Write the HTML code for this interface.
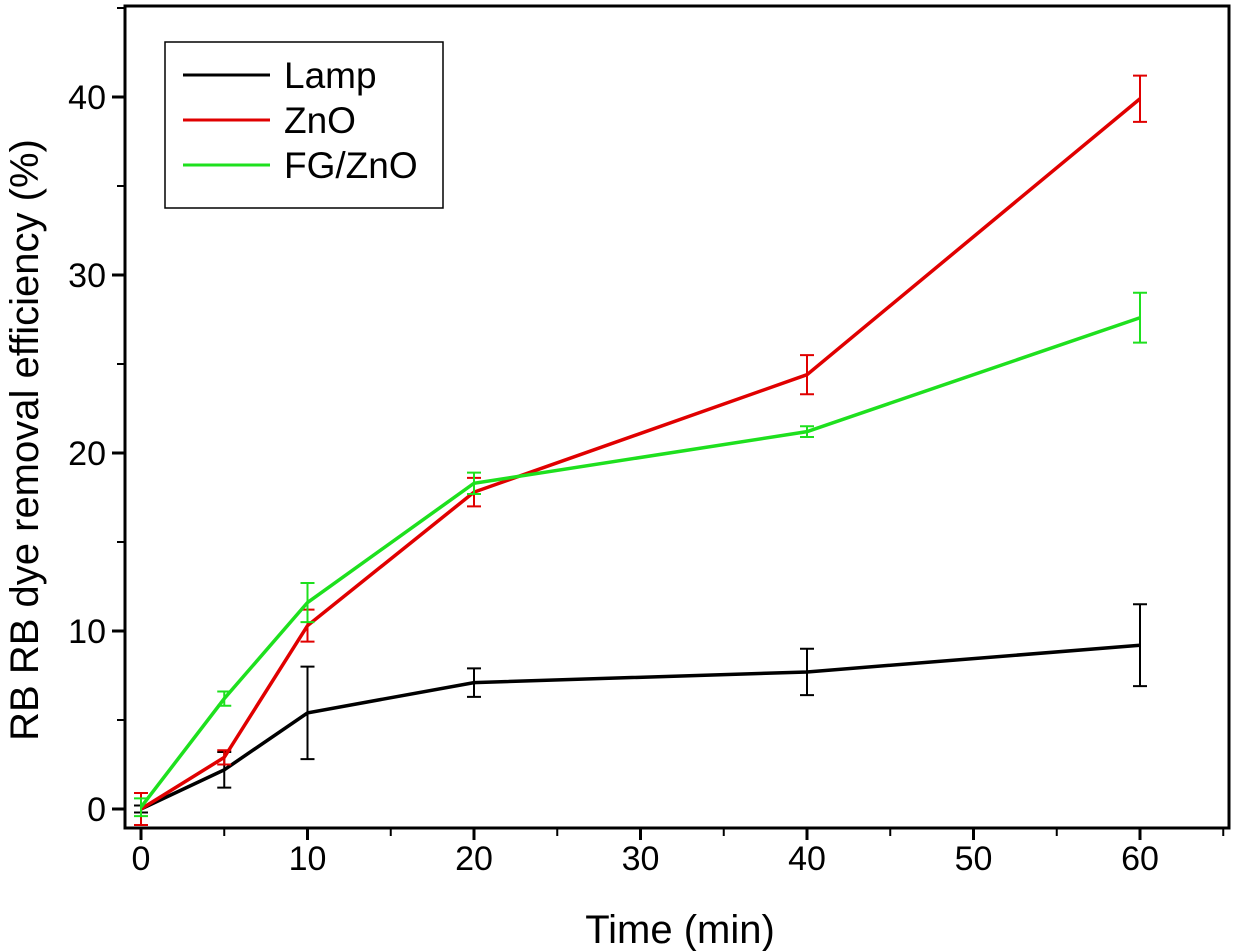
<!DOCTYPE html>
<html><head><meta charset="utf-8"><style>
body{margin:0;background:#fff;}
svg{display:block;font-family:"Liberation Sans",Arial,sans-serif;}
</style></head><body>
<svg id="chart" width="1234" height="951" viewBox="0 0 1234 951">
<rect x="125" y="6" width="1104" height="822" fill="none" stroke="#000" stroke-width="3"/>
<g id="axes"></g><g id="series"></g>
<text x="680" y="943" font-size="40" text-anchor="middle">Time (min)</text>
<text transform="translate(38,440) rotate(-90)" font-size="40" text-anchor="middle">RB RB dye removal efficiency (%)</text>
<g>
<rect x="165" y="42" width="278" height="166" fill="#fff" stroke="#000" stroke-width="1.5"/>
<g><line x1="183" y1="75" x2="270" y2="75" stroke="#000" stroke-width="3"/><text x="284" y="88" font-size="37">Lamp</text></g>
<g><line x1="183" y1="120" x2="270" y2="120" stroke="#e00000" stroke-width="3"/><text x="284" y="133" font-size="37">ZnO</text></g>
<g><line x1="183" y1="165" x2="270" y2="165" stroke="#1ee01e" stroke-width="3"/><text x="284" y="178" font-size="37">FG/ZnO</text></g>
</g>
</svg>
<script>
const times=[0,5,10,20,40,60];
const lampVals=[0,2.2,5.4,7.1,7.7,9.2];
const lampErr=[0.2,1.0,2.6,0.8,1.3,2.3];
const znoVals=[0,2.9,10.3,17.8,24.4,39.9];
const znoErr=[0.9,0.4,0.9,0.8,1.1,1.3];
const fgVals=[0.1,6.2,11.6,18.3,21.2,27.6];
const fgErr=[0.5,0.4,1.1,0.6,0.3,1.4];
const xTicks=[0,10,20,30,40,50,60];
const yTicks=[0,10,20,30,40];
const NS='http://www.w3.org/2000/svg';
const X=v=>141+v*16.65;
const Y=v=>809-v*17.8;
function mk(tag,attrs,parent){const e=document.createElementNS(NS,tag);for(const k in attrs)e.setAttribute(k,attrs[k]);parent.appendChild(e);return e;}
const axes=document.getElementById('axes');
xTicks.forEach(t=>{
 const l=mk('line',{x1:X(t),x2:X(t),y1:828,y2:840,stroke:'#000','stroke-width':3},axes);
 
 
 const m=mk('line',{x1:X(t+5),x2:X(t+5),y1:828,y2:836,stroke:'#000','stroke-width':2},axes);
 
 
 const tx=mk('text',{x:X(t),y:870,'font-size':34,'text-anchor':'middle'},axes);tx.textContent=t;
 
 
});
yTicks.forEach(t=>{
 const l=mk('line',{x1:112,x2:125,y1:Y(t),y2:Y(t),stroke:'#000','stroke-width':3},axes);
 
 
 const m=mk('line',{x1:117,x2:125,y1:Y(t+5),y2:Y(t+5),stroke:'#000','stroke-width':2},axes);
 
 
 const tx=mk('text',{x:106,y:Y(t)+12,'font-size':34,'text-anchor':'end'},axes);tx.textContent=t;
 
 
});
const ser=document.getElementById('series');
function draw(vals,err,color,name){
 const g=mk('g',{},ser);
 
 
 const p=mk('polyline',{points:times.map((t,i)=>X(t)+','+Y(vals[i])).join(' '),fill:'none',stroke:color,'stroke-width':3.5},g);
 
 
 times.forEach((t,i)=>{
  const x=X(t),a=Y(vals[i]+err[i]),b=Y(vals[i]-err[i]);
  const e=mk('path',{d:`M${x},${a}V${b}M${x-7},${a}H${x+7}M${x-7},${b}H${x+7}`,stroke:color,'stroke-width':2,fill:'none'},g);
  
  
 });
}
draw(lampVals,lampErr,'#000','series-lamp');
draw(znoVals,znoErr,'#e00000','series-zno');
draw(fgVals,fgErr,'#1ee01e','series-fgzno');
</script>
</body></html>
